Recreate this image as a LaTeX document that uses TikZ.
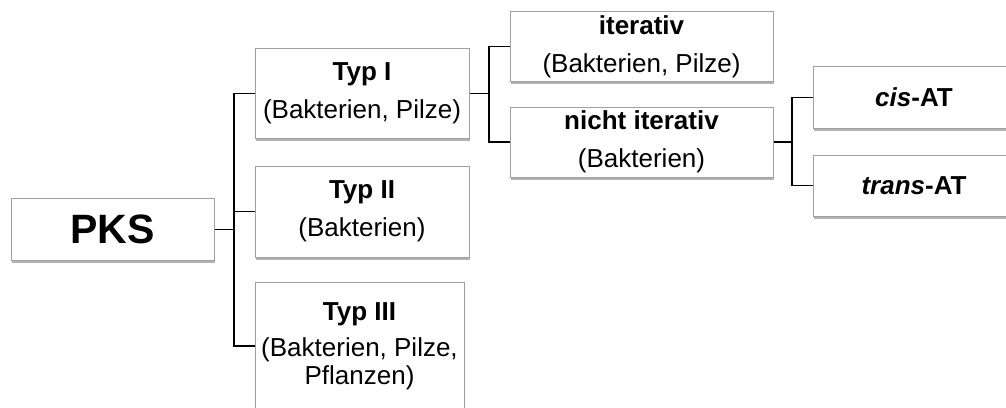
\documentclass[tikz,border=0pt]{standalone}
\usepackage{fontspec}
\setmainfont{Liberation Sans}
\usetikzlibrary{shadows}
\definecolor{boxline}{HTML}{A0A0A0}
\tikzset{
  box/.style={draw=boxline, line width=1pt, fill=white, inner sep=0pt, align=center,
    font=\fontsize{26}{38}\selectfont,
    drop shadow={shadow xshift=1.2pt, shadow yshift=-2.5pt, fill=black, opacity=0.3}},
  conn/.style={draw=black, line width=1.6pt}
}
\begin{document}
\begin{tikzpicture}[x=1pt,y=-1pt]
\useasboundingbox (0,0) rectangle (1006,407);
\clip (0,0) rectangle (1006,407);
\node[box, minimum width=203pt, minimum height=62pt, font=\fontsize{41}{41}\selectfont\bfseries] (pks) at (112.5,229.5) {PKS};
\node[box, minimum width=214pt, minimum height=90pt] (t1) at (362,93.5) {\textbf{Typ I}\\(Bakterien, Pilze)};
\node[box, minimum width=214pt, minimum height=91pt] (t2) at (362,211.5) {\textbf{Typ II}\\(Bakterien)};
\node[box, minimum width=209pt, minimum height=128pt] (t3) at (359.5,346) {\textbf{Typ III}\\[-2pt](Bakterien, Pilze,\\[-10pt]Pflanzen)};
\node[box, minimum width=263pt, minimum height=70pt] (it) at (641.5,46.5) {\textbf{iterativ}\\(Bakterien, Pilze)};
\node[box, minimum width=263pt, minimum height=70pt] (nit) at (641.5,142) {\textbf{nicht iterativ}\\(Bakterien)};
\node[box, minimum width=202pt, minimum height=62pt] (cis) at (914,97.5) {\textbf{\textit{cis}-AT}};
\node[box, minimum width=202pt, minimum height=61pt] (trans) at (914,185.5) {\textbf{\textit{trans}-AT}};
\coordinate (j1) at (234,229.5);
\coordinate (j2) at (489,93.5);
\coordinate (j3) at (792,142);
\draw[conn] (pks.east) -- (pks.east -| j1);
\draw[conn] (t1.west) -- (t1.west -| j1) -- (t3.west -| j1) -- (t3.west);
\draw[conn] (t2.west) -- (t2.west -| j1);
\draw[conn] (t1.east) -- (t1.east -| j2);
\draw[conn] (it.west) -- (it.west -| j2) -- (nit.west -| j2) -- (nit.west);
\draw[conn] (nit.east) -- (nit.east -| j3);
\draw[conn] (cis.west) -- (cis.west -| j3) -- (trans.west -| j3) -- (trans.west);
\end{tikzpicture}
\end{document}
